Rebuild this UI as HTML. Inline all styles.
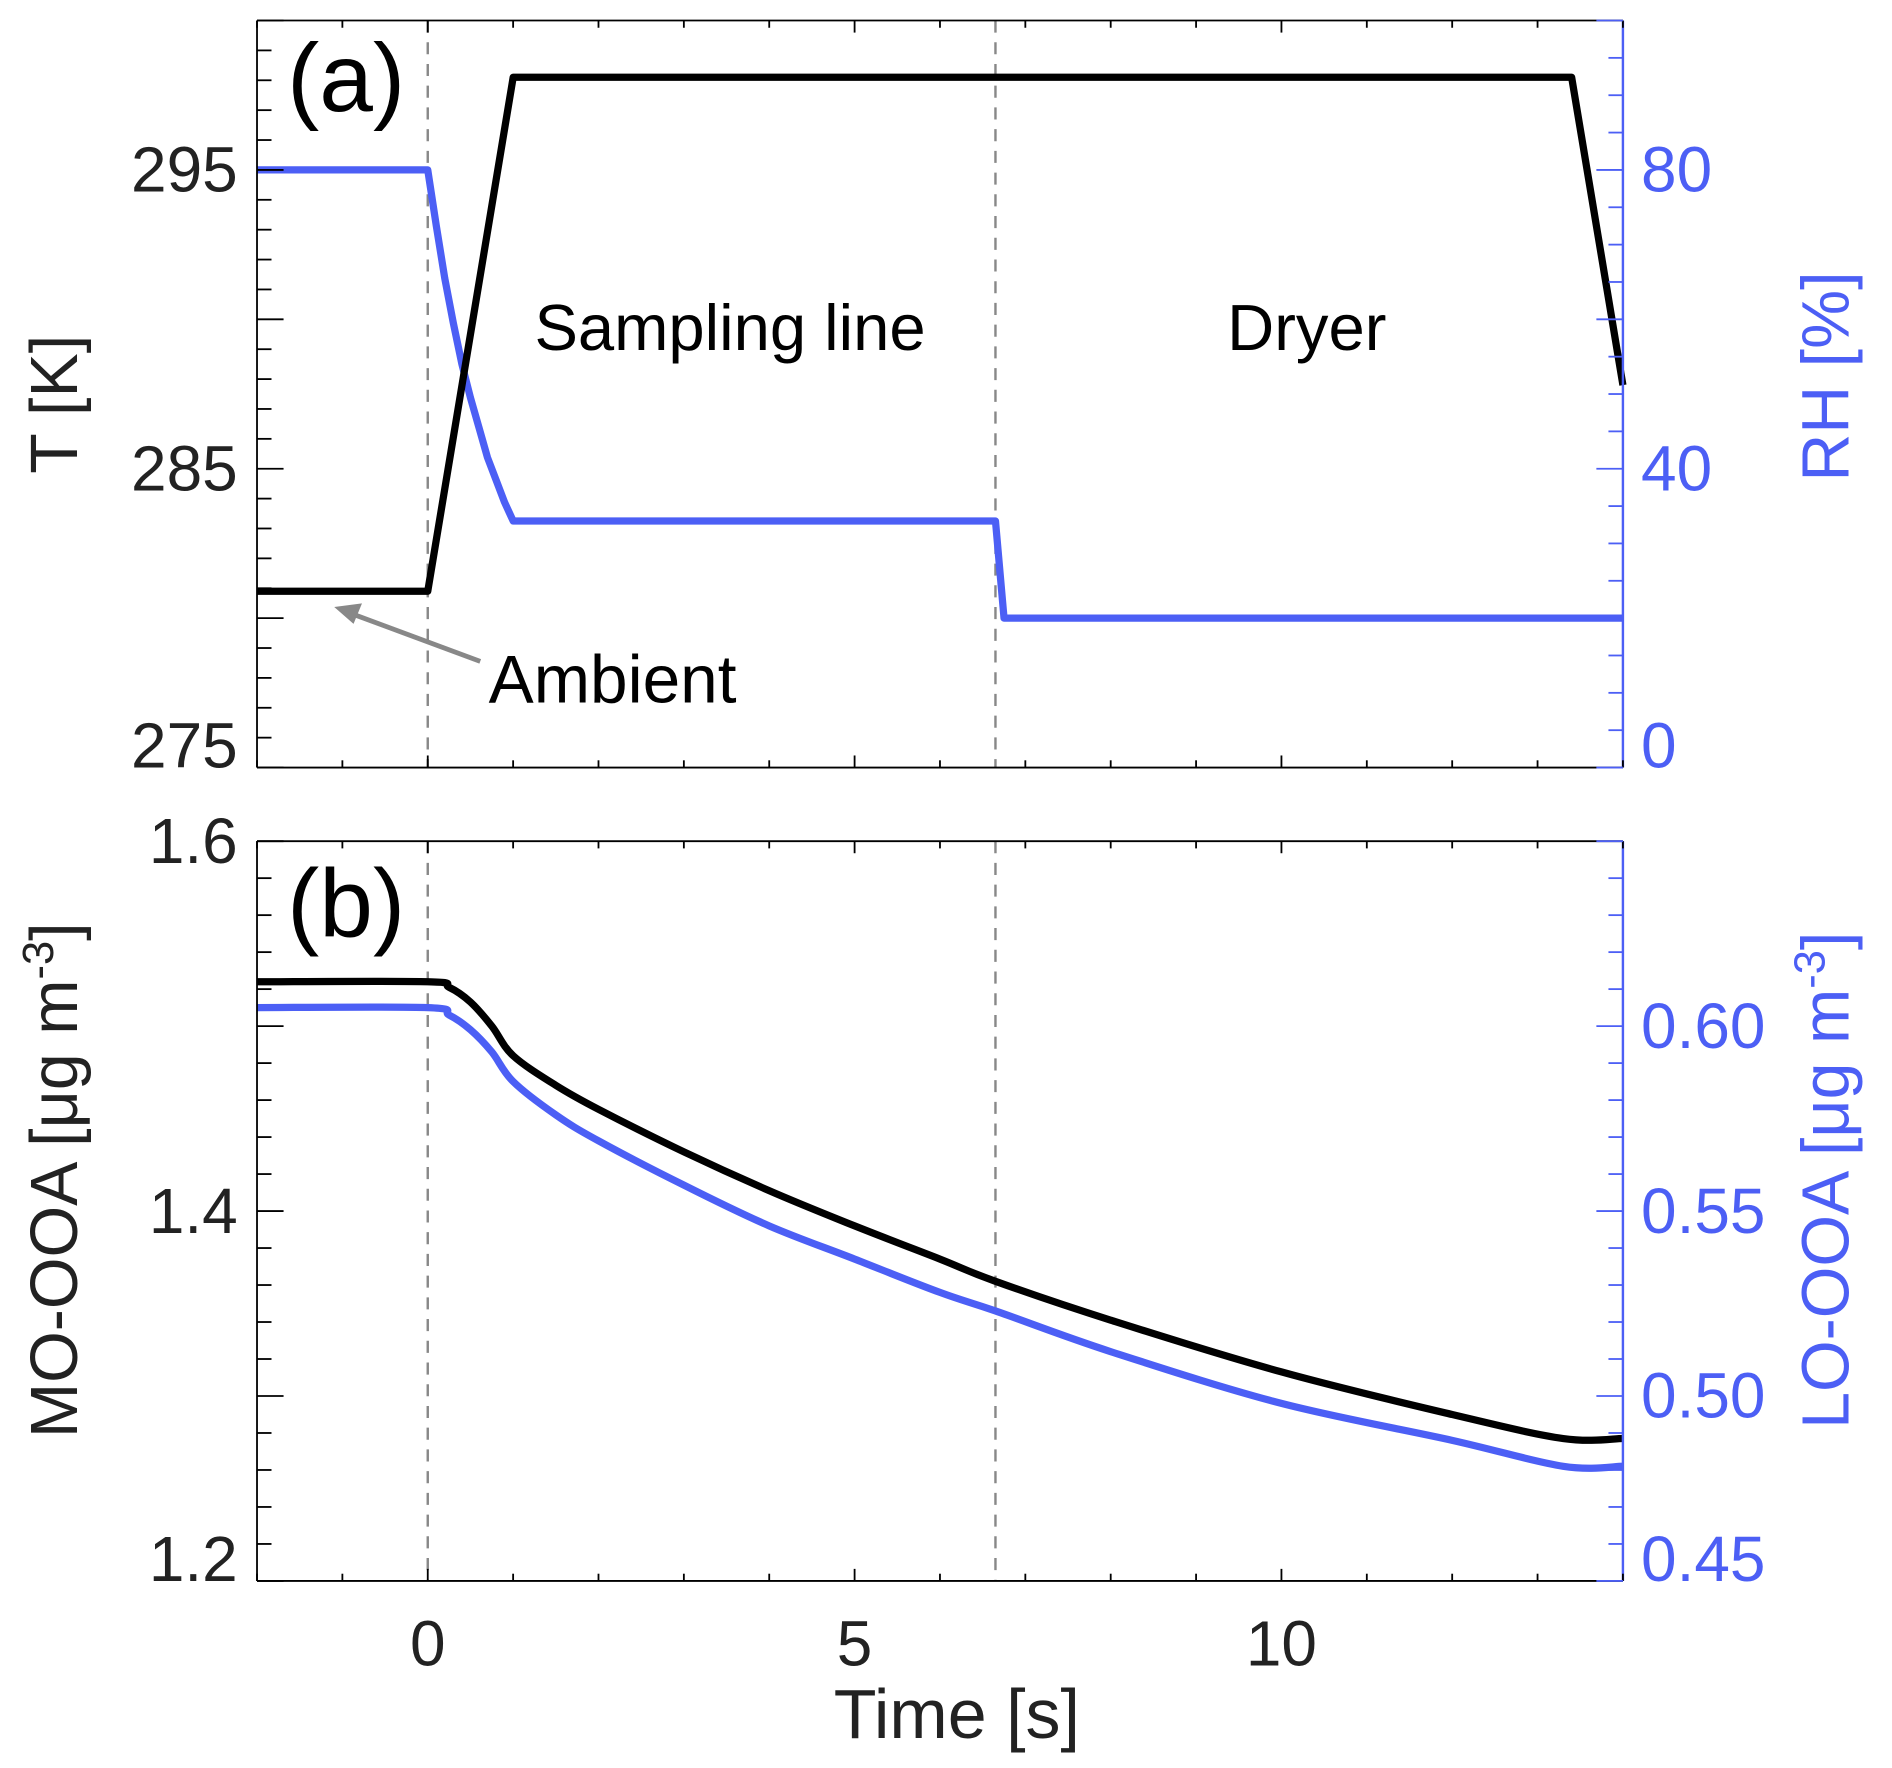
<!DOCTYPE html>
<html><head><meta charset="utf-8"><style>
html,body{margin:0;padding:0;background:#fff;}
svg{display:block;}
text{font-family:"Liberation Sans",sans-serif;}
</style></head><body>
<svg id="chart" width="1892" height="1768" viewBox="0 0 1568 1465" preserveAspectRatio="none" xmlns="http://www.w3.org/2000/svg">
<g id="grid"></g>
<g id="marks"></g>
<g id="axes"></g>
</svg>
<script>
// ---- data ----
const tempT = [-2, 0, 1, 13.4, 14];
const tempK = [280.9, 280.9, 298.1, 298.1, 287.8];
const rhT = [-2, 0, 0.1, 0.2, 0.3, 0.4, 0.5, 0.6, 0.7, 0.8, 0.9, 1, 6.65, 6.75, 14];
const rhV = [80, 80, 72.5, 65.5, 59.5, 54, 49.5, 45.5, 41.5, 38.5, 35.5, 33, 33, 20, 20];
const ooaT = [-2, 0, 0.25, 0.5, 0.75, 1, 1.5, 2, 3, 4, 5, 6, 6.65, 8, 10, 12, 13.3, 14];
const moOOA = [1.524, 1.524, 1.521, 1.513, 1.500, 1.484, 1.468, 1.455, 1.432, 1.411, 1.392, 1.374, 1.362, 1.341, 1.313, 1.290, 1.277, 1.277];
const loOOA = [0.605, 0.605, 0.603, 0.599, 0.593, 0.585, 0.576, 0.569, 0.557, 0.546, 0.537, 0.528, 0.523, 0.512, 0.498, 0.488, 0.481, 0.481];
const xTicks = [0, 5, 10];
const tTicks = [275, 285, 295];
const rhTicks = [0, 40, 80];
const moTicks = [1.2, 1.4, 1.6];
const loTicks = ['0.45', '0.50', '0.55', '0.60'];
const dashT = [0, 6.65];

// ---- layout ----
const L = 213, R = 1345, aT = 17, aB = 636, bT = 697, bB = 1310;
const BLUE = '#4c5ff5';
const xS = t => L + (t + 2) / 16 * (R - L);
const tS = v => aB - (v - 275) / 25 * (aB - aT);
const rhS = v => aB - v / 100 * (aB - aT);
const moS = v => bB - (v - 1.2) / 0.4 * (bB - bT);
const loS = v => bB - (v - 0.45) / 0.2 * (bB - bT);
const NS = 'http://www.w3.org/2000/svg';
function mk(tag, attrs, parent, txt) {
  const e = document.createElementNS(NS, tag);
  for (const k in attrs) e.setAttribute(k, attrs[k]);
  if (txt !== undefined) e.textContent = txt;
  parent.appendChild(e); return e;
}
const grid = document.getElementById('grid'), marks = document.getElementById('marks'), axes = document.getElementById('axes');

dashT.forEach(t => {
  [[aT, aB], [bT, bB]].forEach(([y1, y2]) => {
    const d = mk('line', {x1: xS(t), x2: xS(t), y1: y1, y2: y2, stroke: '#888', 'stroke-width': 2, 'stroke-dasharray': '10,8'}, grid);
    
    
  });
});

function line(xs, ys, fx, fy, color, w, name) {
  const pts = xs.map((x, i) => fx(x).toFixed(1) + ',' + fy(ys[i]).toFixed(1)).join(' ');
  const p = mk('polyline', {points: pts, fill: 'none', stroke: color, 'stroke-width': w, 'stroke-linejoin': 'round'}, marks);
  
  
}
function smooth(xs, ys, fx, fy, color, w, name) {
  const P = xs.map((x, i) => [fx(x), fy(ys[i])]);
  let d = 'M' + P[0][0].toFixed(1) + ',' + P[0][1].toFixed(1);
  for (let i = 0; i < P.length - 1; i++) {
    const p0 = P[Math.max(i - 1, 0)], p1 = P[i], p2 = P[i + 1], p3 = P[Math.min(i + 2, P.length - 1)];
    const k = 1 / 6;
    const c1 = [p1[0] + (p2[0] - p0[0]) * k, p1[1] + (p2[1] - p0[1]) * k];
    const c2 = [p2[0] - (p3[0] - p1[0]) * k, p2[1] - (p3[1] - p1[1]) * k];
    d += ' C' + c1.map(v => v.toFixed(1)).join(',') + ' ' + c2.map(v => v.toFixed(1)).join(',') + ' ' + p2[0].toFixed(1) + ',' + p2[1].toFixed(1);
  }
  const p = mk('path', {d: d, fill: 'none', stroke: color, 'stroke-width': w, 'stroke-linejoin': 'round'}, marks);
  
  
}
line(rhT, rhV, xS, rhS, BLUE, 6, 'rh-line');
line(tempT, tempK, xS, tS, '#000', 6, 'temperature-line');
smooth(ooaT, loOOA, xS, loS, BLUE, 6, 'lo-ooa-line');
smooth(ooaT, moOOA, xS, moS, '#000', 6, 'mo-ooa-line');

function frame(top, bot, nm) {
  const g = mk('g', {}, axes);
  
  
  mk('line', {x1: L, x2: R, y1: top, y2: top, stroke: '#000', 'stroke-width': 1.5}, g);
  mk('line', {x1: L, x2: R, y1: bot, y2: bot, stroke: '#000', 'stroke-width': 1.5}, g);
  mk('line', {x1: L, x2: L, y1: top, y2: bot, stroke: '#000', 'stroke-width': 1.5}, g);
  mk('line', {x1: R, x2: R, y1: top, y2: bot, stroke: BLUE, 'stroke-width': 2}, g);
  for (let t = -2; t <= 14; t++) {
    const len = (t % 5 === 0) ? 10 : 6;
    mk('line', {x1: xS(t), x2: xS(t), y1: top, y2: top + len, stroke: '#000', 'stroke-width': 1.5}, g);
    mk('line', {x1: xS(t), x2: xS(t), y1: bot, y2: bot - len, stroke: '#000', 'stroke-width': 1.5}, g);
  }
  return g;
}
const fa = frame(aT, aB, 'panel-a-frame');
const fb = frame(bT, bB, 'panel-b-frame');
for (let v = 275; v <= 300; v++) { const y = tS(v); mk('line', {x1: L, x2: L + (v % 5 === 0 ? 22 : 12), y1: y, y2: y, stroke: '#000', 'stroke-width': 1.5}, fa); }
for (let v = 0; v <= 100; v += 5) { const y = rhS(v); mk('line', {x1: R, x2: R - (v % 20 === 0 ? 22 : 12), y1: y, y2: y, stroke: BLUE, 'stroke-width': 1.5}, fa); }
for (let i = 0; i <= 20; i++) { const v = 1.2 + i * 0.02; const y = moS(v); mk('line', {x1: L, x2: L + (i % 5 === 0 ? 22 : 12), y1: y, y2: y, stroke: '#000', 'stroke-width': 1.5}, fb); }
for (let i = 0; i <= 20; i++) { const v = 0.45 + i * 0.01; const y = loS(v); mk('line', {x1: R, x2: R - (i % 5 === 0 ? 22 : 12), y1: y, y2: y, stroke: BLUE, 'stroke-width': 1.5}, fb); }

function lab(x, y, s, anchor, color, size, name) {
  const t = mk('text', {x: x, y: y, 'text-anchor': anchor, fill: color, 'font-size': size}, axes, s);
  
  
  return t;
}
tTicks.forEach(v => lab(197, Math.min(tS(v) + 18, aB), String(v), 'end', '#222', 53, 'y-tick-label-t'));
rhTicks.forEach(v => lab(1360, Math.min(rhS(v) + 18, aB), String(v), 'start', BLUE, 53, 'y-tick-label-rh'));
moTicks.forEach(v => lab(197, Math.min(Math.max(moS(v) + 18, bT + 18), bB), v.toFixed(1), 'end', '#222', 53, 'y-tick-label-mo'));
loTicks.forEach(v => lab(1360, Math.min(loS(+v) + 18, bB), v, 'start', BLUE, 53, 'y-tick-label-lo'));
xTicks.forEach(v => lab(xS(v), 1380, String(v), 'middle', '#222', 53, 'x-tick-label'));

lab(793, 1440, 'Time [s]', 'middle', '#222', 58, 'x-axis-title');
function rot(cx, cy, s, color, name) {
  const t = lab(cx, cy, '', 'middle', color, 55, name);
  t.setAttribute('transform', 'rotate(-90 ' + cx + ' ' + cy + ')');
  t.innerHTML = s;
}
rot(64, 335, 'T [K]', '#222', 'y-axis-title-t');
rot(1532, 312, 'RH [%]', BLUE, 'y-axis-title-rh');
rot(64, 978, 'MO-OOA [μg m<tspan dy="-20" font-size="36">-3</tspan><tspan dy="20">]</tspan>', '#222', 'y-axis-title-mo');
rot(1532, 978, 'LO-OOA [μg m<tspan dy="-20" font-size="36">-3</tspan><tspan dy="20">]</tspan>', BLUE, 'y-axis-title-lo');

lab(238, 92, '(a)', 'start', '#000', 80, 'panel-a-label');
lab(238, 776, '(b)', 'start', '#000', 80, 'panel-b-label');
lab(605, 290, 'Sampling line', 'middle', '#000', 54, 'sampling-line-label');
lab(1083, 290, 'Dryer', 'middle', '#000', 54, 'dryer-label');
lab(405, 582, 'Ambient', 'start', '#000', 56, 'ambient-label');
const arr = mk('g', {}, axes);


mk('line', {x1: 398, y1: 548, x2: 290, y2: 508, stroke: '#888', 'stroke-width': 4}, arr);
mk('polygon', {points: '277,503 300,500 293,517', fill: '#888'}, arr);
</script>
</body></html>
